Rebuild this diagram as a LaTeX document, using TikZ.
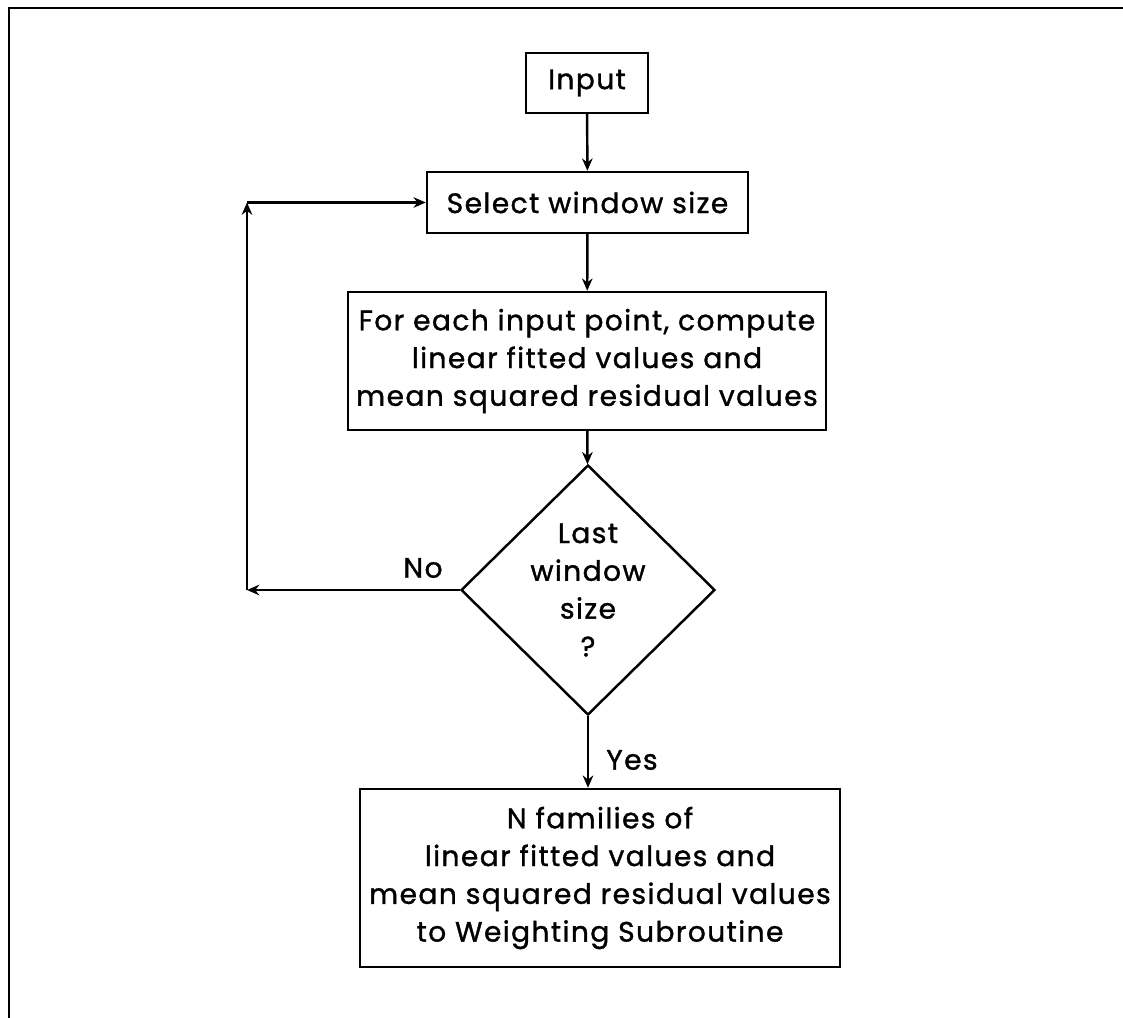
\documentclass[tikz,border=0pt]{standalone}
\usepackage{fontspec}
\setmainfont{Poppins}
\newfontfamily\plotfont{Poppins}[LetterSpace=5,FakeBold=1.2]
\usetikzlibrary{arrows.meta,shapes.geometric}

\tikzset{
  box/.style={draw,line width=1.4pt,inner sep=0pt,align=center,font=\fontsize{16}{21.5}\plotfont},
  flow/.style={line width=1.4pt,-{Stealth[length=7pt,width=6pt]}}
}

\begin{document}
\begin{tikzpicture}[scale=1.0]
\useasboundingbox (0,0) rectangle (22.46,-20.36);
%
\draw[line width=1.6pt] (0.18,-20.36) -- (0.18,-0.16) -- (22.46,-0.16);
% Input
\node[box,minimum width=2.44cm,minimum height=1.2cm] (input) at (11.74,-1.66) {Input};
\node[box,minimum width=6.42cm,minimum height=1.22cm] (select) at (11.75,-4.05) {Select window size};
\node[box,minimum width=9.56cm,minimum height=2.76cm] (fit) at (11.74,-7.22)
  {For each input point, compute\\linear fitted values and\\mean squared residual values};
% test
\node[box,diamond,minimum width=5.08cm,minimum height=5cm] (last) at (11.76,-11.8)
  {Last\\window\\size\\?};
\node[box,minimum width=9.6cm,minimum height=3.56cm] (out) at (12.0,-17.56)
  {N families of\\linear fitted values and\\mean squared residual values\\to Weighting Subroutine};

\coordinate (backlo) at (4.94,-11.8);
\coordinate (backhi) at (4.94,-4.05);

\draw[flow] (input) -- (select);
\draw[flow] (select) -- (fit);
\draw[flow] (fit) -- (last);
\draw[flow] (last.south) -- (last.south |- out.north);
\draw[flow] (last.west) -- (backlo);
\draw[flow] (backlo) -- (backhi);
\draw[flow] (backhi) -- (select.west);

\node[font=\fontsize{16}{18}\plotfont] (no) at (8.46,-11.36) {No};
\node[font=\fontsize{16}{18}\plotfont] (yes) at (12.64,-15.2) {Yes};
\end{tikzpicture}
\end{document}
